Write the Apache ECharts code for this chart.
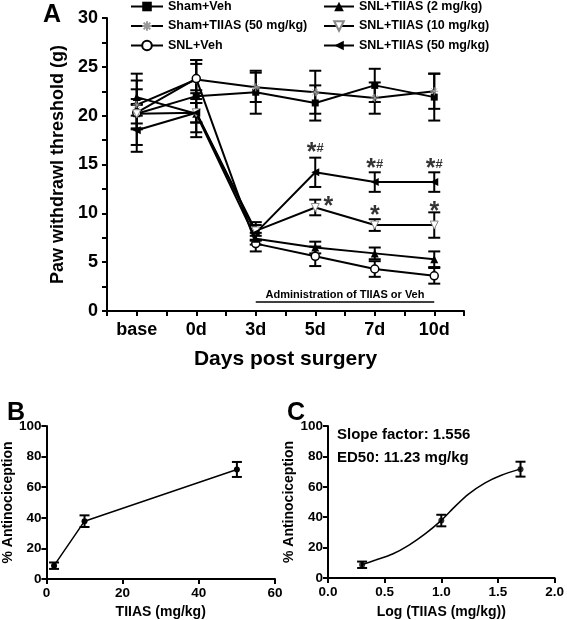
<!DOCTYPE html>
<html>
<head>
<meta charset="utf-8">
<script src="https://cdn.jsdelivr.net/npm/echarts@6/dist/echarts.min.js"></script>
<style>html,body{margin:0;padding:0;background:#fff}#c{width:567px;height:620px}</style>
</head>
<body>
<div id="c"></div>
<script>
// ---------- Panel A data ----------
const categories = ['base', '0d', '3d', '5d', '7d', '10d'];
const shamVeh      = [20.2, 22.0, 22.4, 21.3, 23.1, 21.9];
const shamVehErr   = [1.5, 3.7, 2.2, 1.8, 1.7, 2.4];
const shamTiias    = [21.1, 23.7, 22.9, 22.4, 21.8, 22.5];
const shamTiiasErr = [2.5, 2.0, 1.5, 2.2, 1.6, 1.8];
const snlVeh       = [20.3, 23.8, 6.9, 5.6, 4.3, 3.6];
const snlVehErr    = [4.0, 1.5, 0.8, 1.0, 0.8, 0.8];
const snl2         = [21.9, 20.2, 7.4, 6.5, 5.9, 5.3];
const snl2Err      = [0.8, 2.4, 0.6, 0.6, 0.6, 0.8];
const snl10        = [20.2, 20.3, 8.2, 10.6, 8.8, 8.8];
const snl10Err     = [1.0, 1.0, 0.9, 0.8, 0.6, 1.3];
const snl50        = [18.5, 20.3, 8.0, 14.2, 13.2, 13.2];
const snl50Err     = [1.5, 1.0, 0.8, 1.5, 1.0, 1.0];
const yTicksA = [0, 5, 10, 15, 20, 25, 30];
// significance marks
const sigCats   = ['5d', '7d', '10d', '5d', '7d', '10d'];
const sigValues = [16.6, 15.0, 15.0, 11.1, 10.2, 10.6];
const sigText   = ['*#', '*#', '*#', '*', '*', '*'];
// administration period
const adminFrom = '3d', adminTo = '10d', adminLevel = 0.9;
const adminText = 'Administration of TIIAS or Veh';

// ---------- Panel B / C data ----------
const doses      = [2, 10, 50];
const antino     = [8.7, 37.8, 71.6];
const antinoErr  = [2.1, 3.8, 4.9];
const logDoses   = [0.301, 1.0, 1.699];
const fitLogX    = [0.30, 0.42, 0.57, 0.715, 0.86, 1.0, 1.124, 1.24, 1.387, 1.53, 1.70];
const fitY       = [8.8, 11.8, 15.8, 21.7, 29.2, 37.9, 47.3, 55.2, 62.6, 67.6, 71.8];
const slopeText  = 'Slope factor: 1.556';
const ed50Text   = 'ED50: 11.23 mg/kg';

const FONT = 'Liberation Sans, Arial, sans-serif';
const pos = c => categories.indexOf(c) + 0.5;

function errData(vals, errs, xs) {
  return vals.map((v, i) => [xs[i], v - errs[i], v + errs[i]]);
}
function errSeries(data, xi, yi, half) {
  return {
    type: 'custom', xAxisIndex: xi, yAxisIndex: yi, z: 3, silent: true,
    renderItem: function (params, api) {
      const x = api.value(0), lo = api.value(1), hi = api.value(2);
      const a = api.coord([x, lo]), b = api.coord([x, hi]);
      const st = { stroke: '#000', lineWidth: 2 };
      return { type: 'group', children: [
        { type: 'line', shape: { x1: a[0], y1: a[1], x2: b[0], y2: b[1] }, style: st },
        { type: 'line', shape: { x1: a[0] - half, y1: a[1], x2: a[0] + half, y2: a[1] }, style: st },
        { type: 'line', shape: { x1: b[0] - half, y1: b[1], x2: b[0] + half, y2: b[1] }, style: st }
      ]};
    },
    encode: { x: 0, y: [1, 2] },
    data: data
  };
}
const xsA = categories.map((c, i) => i + 0.5);
function lineA(name, vals, symbol, itemStyle, size) {
  return {
    name: name, type: 'line', xAxisIndex: 0, yAxisIndex: 0, z: 4,
    data: vals.map((v, i) => [xsA[i], v]),
    symbol: symbol, symbolSize: size || 7,
    lineStyle: { color: '#000', width: 2 },
    itemStyle: itemStyle
  };
}

const axisCommon = {
  axisLine: { lineStyle: { color: '#000', width: 2 } },
  axisTick: { inside: false, length: 5, lineStyle: { color: '#000', width: 2 } },
  splitLine: { show: false },
  nameTextStyle: { color: '#000', fontWeight: 'bold', fontFamily: FONT }
};

const series = [
  lineA('Sham+Veh', shamVeh, 'rect', { color: '#000' }, 7),
  lineA('Sham+TIIAS (50 mg/kg)', shamTiias,
        'path://M0,5L10,5M5,0L5,10M1.5,1.5L8.5,8.5M8.5,1.5L1.5,8.5',
        { color: '#999', borderColor: '#999', borderWidth: 1 }, 8),
  lineA('SNL+Veh', snlVeh, 'circle', { color: '#fff', borderColor: '#000', borderWidth: 1.5 }, 8),
  lineA('SNL+TIIAS (2 mg/kg)', snl2, 'triangle', { color: '#000' }, 8),
  lineA('SNL+TIIAS (10 mg/kg)', snl10, 'path://M0,0L10,0L5,9Z',
        { color: '#fff', borderColor: '#888', borderWidth: 1 }, 8),
  lineA('SNL+TIIAS (50 mg/kg)', snl50, 'path://M0,5L10,0L10,10Z', { color: '#000' }, 8),
  errSeries([].concat(
    errData(shamVeh, shamVehErr, xsA), errData(shamTiias, shamTiiasErr, xsA),
    errData(snlVeh, snlVehErr, xsA), errData(snl2, snl2Err, xsA),
    errData(snl10, snl10Err, xsA), errData(snl50, snl50Err, xsA)), 0, 0, 6),
  {
    type: 'scatter', xAxisIndex: 0, yAxisIndex: 0, symbolSize: 0, silent: true, z: 5,
    data: sigCats.map((c, i) => ({
      value: [pos(c), sigValues[i]],
      label: { offset: (i === 3 ? [13, 0] : [0, 0]) }
    })),
    label: {
      show: true, position: 'inside', color: '#000',
      formatter: p => {
        const t = sigText[p.dataIndex];
        return t.length > 1 ? '{a|*}{b|#}' : '{a|*}';
      },
      rich: {
        a: { fontSize: 25, fontWeight: 'bold', fontFamily: FONT, color: '#000', verticalAlign: 'top', padding: [9, 0, 0, 0] },
        b: { fontSize: 13, fontWeight: 'bold', fontFamily: FONT, color: '#000' }
      }
    }
  },
  {
    type: 'line', xAxisIndex: 0, yAxisIndex: 0, data: [], silent: true,
    markLine: {
      symbol: 'none', silent: true,
      lineStyle: { color: '#000', width: 1.5, type: 'solid' },
      label: { show: true, position: 'middle', formatter: adminText, color: '#000',
               fontSize: 11, fontWeight: 'bold', fontFamily: FONT, distance: 2 },
      data: [[{ coord: [pos(adminFrom), adminLevel] }, { coord: [pos(adminTo), adminLevel] }]]
    }
  },
  // Panel B
  {
    type: 'line', xAxisIndex: 1, yAxisIndex: 1, z: 4,
    data: doses.map((d, i) => [d, antino[i]]),
    symbol: 'circle', symbolSize: 6,
    lineStyle: { color: '#000', width: 1.5 }, itemStyle: { color: '#000' }
  },
  errSeries(errData(antino, antinoErr, doses), 1, 1, 5),
  // Panel C
  {
    type: 'line', xAxisIndex: 2, yAxisIndex: 2, z: 4, smooth: 0.25,
    data: fitLogX.map((x, i) => [x, fitY[i]]),
    symbol: 'none', lineStyle: { color: '#000', width: 1.5 }
  },
  {
    type: 'scatter', xAxisIndex: 2, yAxisIndex: 2, z: 5,
    data: logDoses.map((x, i) => [x, antino[i]]),
    symbol: 'circle', symbolSize: 6, itemStyle: { color: '#000' }
  },
  errSeries(errData(antino, antinoErr, logDoses), 2, 2, 5)
];

const legendText = { color: '#000', fontSize: 12.5, fontWeight: 'bold', fontFamily: FONT };
const option = {
  animation: false,
  backgroundColor: '#fff',
  textStyle: { fontFamily: FONT },
  title: [
    { text: 'A', left: 38, top: -2, textStyle: { fontSize: 25, fontWeight: 'bold', color: '#000', fontFamily: FONT } },
    { text: 'B', left: 2, top: 396, textStyle: { fontSize: 25, fontWeight: 'bold', color: '#000', fontFamily: FONT } },
    { text: 'C', left: 282, top: 396, textStyle: { fontSize: 25, fontWeight: 'bold', color: '#000', fontFamily: FONT } }
  ],
  legend: [
    { orient: 'vertical', left: 130, top: 0, padding: 0, itemWidth: 32, itemHeight: 12, itemGap: 6.5,
      data: ['Sham+Veh', 'Sham+TIIAS (50 mg/kg)', 'SNL+Veh'], textStyle: legendText },
    { orient: 'vertical', left: 323, top: 0, padding: 0, itemWidth: 30, itemHeight: 12, itemGap: 6.5,
      data: ['SNL+TIIAS (2 mg/kg)', 'SNL+TIIAS (10 mg/kg)', 'SNL+TIIAS (50 mg/kg)'], textStyle: legendText }
  ],
  grid: [
    { left: 107, top: 18, width: 357, height: 293 },
    { left: 43, top: 426, width: 232, height: 154 },
    { left: 328, top: 426, width: 229, height: 153 }
  ],
  xAxis: [
    Object.assign({}, axisCommon, {
      type: 'value', gridIndex: 0, min: 0, max: categories.length, interval: 0.5,
      name: 'Days post surgery', nameLocation: 'middle', nameGap: 38,
      nameTextStyle: { color: '#000', fontWeight: 'bold', fontFamily: FONT, fontSize: 21 },
      axisLabel: { color: '#000', fontWeight: 'bold', fontSize: 18, fontFamily: FONT, margin: 10,
        formatter: v => { const i = v - 0.5; return Number.isInteger(i) ? categories[i] : ''; } }
    }),
    Object.assign({}, axisCommon, {
      type: 'value', gridIndex: 1, min: 0, max: 60, interval: 20,
      name: 'TIIAS (mg/kg)', nameLocation: 'middle', nameGap: 26,
      nameTextStyle: { color: '#000', fontWeight: 'bold', fontFamily: FONT, fontSize: 14 },
      axisLabel: { color: '#000', fontWeight: 'bold', fontSize: 13.5, fontFamily: FONT, margin: 7 }
    }),
    Object.assign({}, axisCommon, {
      type: 'value', gridIndex: 2, min: 0, max: 2, interval: 0.5,
      name: 'Log (TIIAS (mg/kg))', nameLocation: 'middle', nameGap: 27,
      nameTextStyle: { color: '#000', fontWeight: 'bold', fontFamily: FONT, fontSize: 14 },
      axisLabel: { color: '#000', fontWeight: 'bold', fontSize: 13.5, fontFamily: FONT, margin: 7,
        formatter: v => v.toFixed(1) }
    })
  ],
  yAxis: [
    Object.assign({}, axisCommon, {
      type: 'value', gridIndex: 0, min: yTicksA[0], max: yTicksA[yTicksA.length - 1], interval: 5,
      minorTick: { show: true, splitNumber: 2, length: 5, lineStyle: { color: '#000', width: 2 } },
      name: 'Paw withdrawl threshold (g)', nameLocation: 'middle', nameGap: 37,
      nameTextStyle: { color: '#000', fontWeight: 'bold', fontFamily: FONT, fontSize: 18 },
      axisLabel: { color: '#000', fontWeight: 'bold', fontSize: 18, fontFamily: FONT, margin: 9 }
    }),
    Object.assign({}, axisCommon, {
      type: 'value', gridIndex: 1, min: 0, max: 100, interval: 20,
      name: '% Antinociception', nameLocation: 'middle', nameGap: 28,
      nameTextStyle: { color: '#000', fontWeight: 'bold', fontFamily: FONT, fontSize: 14 },
      axisLabel: { color: '#000', fontWeight: 'bold', fontSize: 13.5, fontFamily: FONT, margin: 5 }
    }),
    Object.assign({}, axisCommon, {
      type: 'value', gridIndex: 2, min: 0, max: 100, interval: 20,
      name: '% Antinociception', nameLocation: 'middle', nameGap: 28,
      nameTextStyle: { color: '#000', fontWeight: 'bold', fontFamily: FONT, fontSize: 14 },
      axisLabel: { color: '#000', fontWeight: 'bold', fontSize: 13.5, fontFamily: FONT, margin: 5 }
    })
  ],
  graphic: [
    { type: 'text', left: 337, top: 427, style: { text: slopeText, fill: '#000', font: 'bold 15px ' + FONT } },
    { type: 'text', left: 337, top: 450, style: { text: ed50Text, fill: '#000', font: 'bold 15px ' + FONT } }
  ],
  series: series
};
const chart = echarts.init(document.getElementById('c'), null, { renderer: 'canvas' });
chart.setOption(option);
</script>
</body>
</html>
